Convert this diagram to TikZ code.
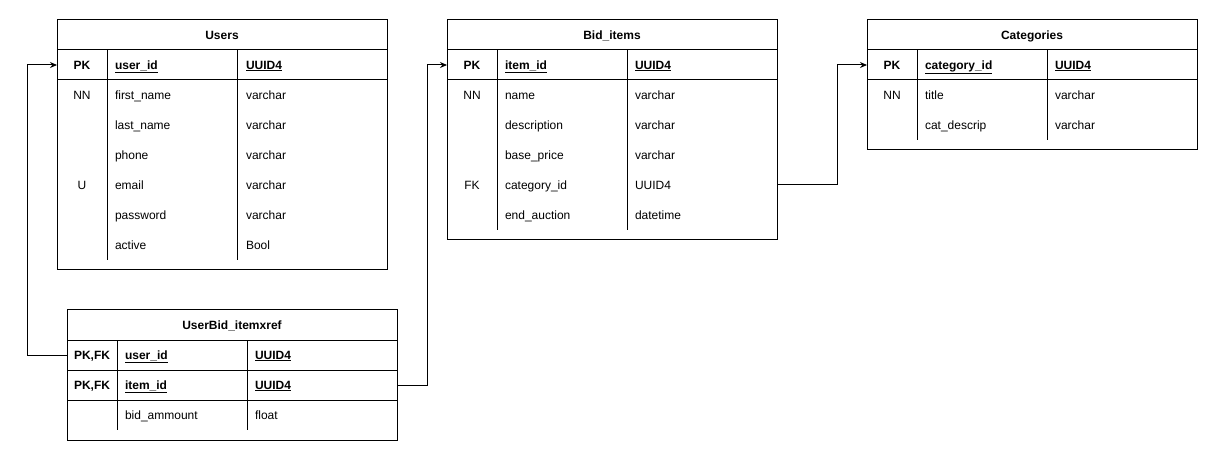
\documentclass[tikz,border=0pt]{standalone}
\usepackage{fontspec}
\setmainfont{Liberation Sans}
\usetikzlibrary{positioning, arrows.meta}

\begin{document}
\begin{tikzpicture}[
    x=1pt, y=-1pt,
    every node/.style={font=\fontsize{12}{14}\selectfont, inner sep=0pt, outer sep=0pt,
      text height=10.6pt, text depth=2.5pt},
    tab/.style={draw, line width=1pt, minimum width=330pt},
    head/.style={tab, minimum height=30pt, font=\fontsize{12}{14}\selectfont\bfseries},
    keyrow/.style={tab, minimum height=30pt},
    row/.style={minimum width=330pt, minimum height=30pt},
    key/.style={font=\fontsize{12}{14}\selectfont\bfseries},
    sep/.style={line width=1pt},
    fk/.style={line width=1pt, -{Stealth[length=7pt, width=6pt]}}]
  \useasboundingbox (0,0) rectangle (1218,462);

  % users
  \node[head] at (222,35) (users-head) {Users};
  \node[tab, minimum height=250pt, anchor=north] at (users-head.north) (users) {};
  \node[keyrow, below=0pt of users-head] (users-pk) {};
  \node[key] at ([xshift=25]users-pk.west) (users-pk-flag) {PK};
  \node[key, anchor=west] at ([xshift=58]users-pk.west) (users-pk-name) {\underline{user\_id}};
  \node[key, anchor=west] at ([xshift=189]users-pk.west) (users-pk-type) {\underline{UUID4}};
  \foreach \k/\n/\t [count=\i] in {NN/first\_name/varchar, /last\_name/varchar, /phone/varchar,
      U/email/varchar, /password/varchar, /active/Bool} {
    \node[row] at ([yshift=-30*\i]users-pk.center) (users-r\i) {};
    \node at ([xshift=25]users-r\i.west) (users-r\i-flag) {\k};
    \node[anchor=west] at ([xshift=58]users-r\i.west) (users-r\i-name) {\n};
    \node[anchor=west] at ([xshift=189]users-r\i.west) (users-r\i-type) {\t};
  }
  \draw[sep] ([xshift=50]users-head.south west) -- ([xshift=50, yshift=10]users.south west)
    ([xshift=180]users-head.south west) -- ([xshift=180, yshift=10]users.south west);

  % bid items
  \node[head, right=60pt of users-head] (bid-head) {Bid\_items};
  \node[tab, minimum height=220pt, anchor=north] at (bid-head.north) (bid) {};
  \node[keyrow, below=0pt of bid-head] (bid-pk) {};
  \node[key] at ([xshift=25]bid-pk.west) (bid-pk-flag) {PK};
  \node[key, anchor=west] at ([xshift=58]bid-pk.west) (bid-pk-name) {\underline{item\_id}};
  \node[key, anchor=west] at ([xshift=188]bid-pk.west) (bid-pk-type) {\underline{UUID4}};
  \foreach \k/\n/\t [count=\i] in {NN/name/varchar, /description/varchar, /base\_price/varchar,
      FK/category\_id/UUID4, /end\_auction/datetime} {
    \node[row] at ([yshift=-30*\i]bid-pk.center) (bid-r\i) {};
    \node at ([xshift=25]bid-r\i.west) (bid-r\i-flag) {\k};
    \node[anchor=west] at ([xshift=58]bid-r\i.west) (bid-r\i-name) {\n};
    \node[anchor=west] at ([xshift=188]bid-r\i.west) (bid-r\i-type) {\t};
  }
  \draw[sep] ([xshift=50]bid-head.south west) -- ([xshift=50, yshift=10]bid.south west)
    ([xshift=180]bid-head.south west) -- ([xshift=180, yshift=10]bid.south west);

  % categories
  \node[head, right=90pt of bid-head] (cat-head) {Categories};
  \node[tab, minimum height=130pt, anchor=north] at (cat-head.north) (cat) {};
  \node[keyrow, below=0pt of cat-head] (cat-pk) {};
  \node[key] at ([xshift=25]cat-pk.west) (cat-pk-flag) {PK};
  \node[key, anchor=west] at ([xshift=58]cat-pk.west) (cat-pk-name) {\underline{category\_id}};
  \node[key, anchor=west] at ([xshift=188]cat-pk.west) (cat-pk-type) {\underline{UUID4}};
  \foreach \k/\n/\t [count=\i] in {NN/title/varchar, /cat\_descrip/varchar} {
    \node[row] at ([yshift=-30*\i]cat-pk.center) (cat-r\i) {};
    \node at ([xshift=25]cat-r\i.west) (cat-r\i-flag) {\k};
    \node[anchor=west] at ([xshift=58]cat-r\i.west) (cat-r\i-name) {\n};
    \node[anchor=west] at ([xshift=188]cat-r\i.west) (cat-r\i-type) {\t};
  }
  \draw[sep] ([xshift=50]cat-head.south west) -- ([xshift=50, yshift=10]cat.south west)
    ([xshift=180]cat-head.south west) -- ([xshift=180, yshift=10]cat.south west);

  % cross reference
  \node[head, below=40pt of users, xshift=10pt] (ubx-head) {UserBid\_itemxref};
  \node[tab, minimum height=130pt, anchor=north] at (ubx-head.north) (ubx) {};
  \node[keyrow, below=0pt of ubx-head] (ubx-k1) {};
  \node[keyrow, below=0pt of ubx-k1] (ubx-k2) {};
  \foreach \n [count=\i] in {user\_id, item\_id} {
    \node[key] at ([xshift=25]ubx-k\i.west) (ubx-k\i-flag) {PK,FK};
    \node[key, anchor=west] at ([xshift=58]ubx-k\i.west) (ubx-k\i-name) {\underline{\n}};
    \node[key, anchor=west] at ([xshift=188]ubx-k\i.west) (ubx-k\i-type) {\underline{UUID4}};
  }
  \node[row, below=0pt of ubx-k2] (ubx-r1) {};
  \node at ([xshift=25]ubx-r1.west) (ubx-r1-flag) {};
  \node[anchor=west] at ([xshift=58]ubx-r1.west) (ubx-r1-name) {bid\_ammount};
  \node[anchor=west] at ([xshift=188]ubx-r1.west) (ubx-r1-type) {float};
  \draw[sep] ([xshift=50]ubx-head.south west) -- ([xshift=50, yshift=10]ubx.south west)
    ([xshift=180]ubx-head.south west) -- ([xshift=180, yshift=10]ubx.south west);

  % keys
  \draw[fk] (ubx-k1.west) -- ++(-40,0) |- (users-pk.west);
  \draw[fk] (ubx-k2.east) -- ++(30,0) |- (bid-pk.west);
  \draw[fk] (bid-r4.east) -- ++(60,0) |- (cat-pk.west);
\end{tikzpicture}
\end{document}
